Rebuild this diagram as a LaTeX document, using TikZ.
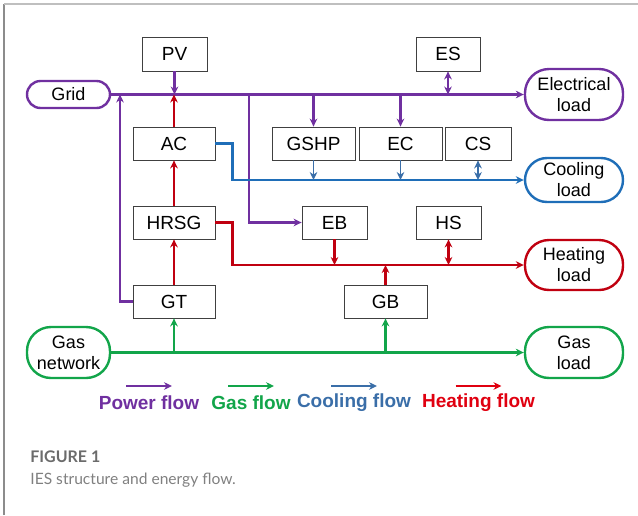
\documentclass[tikz,border=0pt]{standalone}
\usepackage{fontspec}
\setmainfont{Liberation Sans}
\newfontfamily\capfont{Lato}
\usetikzlibrary{arrows.meta}
\definecolor{powc}{HTML}{7030A0}
\definecolor{gasc}{HTML}{12A54A}
\definecolor{coolc}{HTML}{1F6EB8}
\definecolor{coolt}{HTML}{3A6EA8}
\definecolor{heatc}{HTML}{C00010}
\definecolor{heatt}{HTML}{E00010}
\begin{document}
\begin{tikzpicture}[x=0.5pt,y=-0.5pt,>={Stealth[length=4pt,width=3.8pt]},
  unitbox/.style={draw=black!75, line width=0.4pt, minimum width=41pt, minimum height=16.5pt, inner sep=0pt, font=\fontsize{9.5}{11}\selectfont},
  loadbox/.style={draw, line width=1.2pt, rounded corners=12pt, minimum width=49pt, minimum height=25.5pt, align=center, inner sep=0pt, font=\fontsize{9}{10.5}\selectfont},
  pflow/.style={powc, line width=1.25pt},
  gflow/.style={gasc, line width=1.25pt},
  cflow/.style={coolc, line width=1.25pt},
  hflow/.style={heatc, line width=1.25pt},
  branch/.style={line width=0.9pt},
  legtext/.style={font=\fontsize{9.5}{11}\selectfont\bfseries}]
\useasboundingbox (0,0) rectangle (638,515);
\draw[black!45, line width=0.8pt] (4,515) -- (4,4);
\draw[black!25, line width=0.8pt] (4,4) -- (638,4);
% units
\node[unitbox, minimum width=32.5pt, minimum height=17pt] (pv) at (174.5,54) {PV};
\node[unitbox, minimum width=32pt, minimum height=17pt] (es) at (448,54) {ES};
\node[unitbox] (ac) at (174,143.5) {AC};
\node[unitbox, minimum width=41.5pt] (gshp) at (313.5,143.5) {GSHP};
\node[unitbox, minimum width=41.5pt] (ec) at (400.5,143.5) {EC};
\node[unitbox, minimum width=33pt] (cs) at (478,143.5) {CS};
\node[unitbox] (hrsg) at (174,222.5) {HRSG};
\node[unitbox, minimum width=32.5pt] (eb) at (334.5,222.5) {EB};
\node[unitbox, minimum width=32.5pt] (hs) at (448.5,222.5) {HS};
\node[unitbox] (gt) at (174,301.5) {GT};
\node[unitbox, minimum width=41.5pt] (gb) at (385.5,301.5) {GB};
% networks and loads
\node[loadbox, draw=powc, minimum width=41.5pt, minimum height=13.5pt, rounded corners=6.75pt] (grid) at (68.5,94.5) {Grid};
\node[loadbox, draw=powc] (eload) at (574,94.5) {Electrical\\load};
\node[loadbox, draw=coolc, minimum height=22pt, rounded corners=11pt] (cload) at (574,180) {Cooling\\load};
\node[loadbox, draw=heatc, minimum height=25pt] (hload) at (574,265) {Heating\\load};
\node[loadbox, draw=gasc, minimum width=41.5pt] (gasnet) at (68.5,352.5) {Gas\\network};
\node[loadbox, draw=gasc] (gload) at (574,352.5) {Gas\\load};
\coordinate (tap) at (249,94.5);
\coordinate (gtup) at (120,94.5);
% power flow
\draw[pflow,->] (grid) -- (eload);
\draw[pflow,->] (pv) -- (pv |- grid);
\draw[pflow,<->] (es) -- (es |- grid);
\draw[pflow,->] (gshp |- grid) -- (gshp);
\draw[pflow,->] (ec |- grid) -- (ec);
\draw[pflow,->] (tap) |- (eb);
\draw[pflow,->] (gt) -| (gtup);
% cooling flow
\draw[cflow,->] (ac.east) -- ++(17,0) |- (cload);
\draw[cflow,branch,coolt,->] (gshp) -- (gshp |- cload);
\draw[cflow,branch,coolt,->] (ec) -- (ec |- cload);
\draw[cflow,branch,coolt,<->] (cs) -- (cs |- cload);
% heating flow
\draw[hflow,->] (ac) -- (ac |- grid);
\draw[hflow,->] (hrsg) -- (ac);
\draw[hflow,->] (gt) -- (hrsg);
\draw[hflow,->] (hrsg.east) -- ++(17,0) |- (hload);
\draw[hflow,->] (eb) -- (eb |- hload);
\draw[hflow,<->] (hs) -- (hs |- hload);
\draw[hflow,->] (gb) -- (gb |- hload);
% gas flow
\draw[gflow,->] (gasnet) -- (gload);
\draw[gflow,->] (gt |- gasnet) -- (gt);
\draw[gflow,->] (gb |- gasnet) -- (gb);
% legend
\foreach \c/\t/\x in {powc/Power flow/149, gasc/Gas flow/251, coolt/Cooling flow/354, heatt/Heating flow/478.5}{
  \node[legtext, text=\c] (leg-\c) at (\x,403) {\t};
  \draw[\c, line width=0.9pt, ->] (\x-23,386) -- (\x+23,386);
}
% caption
\node[anchor=west, inner sep=0pt, text=black!58, font=\capfont\bfseries\fontsize{8}{9.5}\selectfont] (fig) at (30,457) {FIGURE 1};
\node[anchor=west, inner sep=0pt, text=black!50, font=\capfont\fontsize{7.8}{9.5}\selectfont] (cap) at (30,480) {IES structure and energy flow.};
\end{tikzpicture}
\end{document}
